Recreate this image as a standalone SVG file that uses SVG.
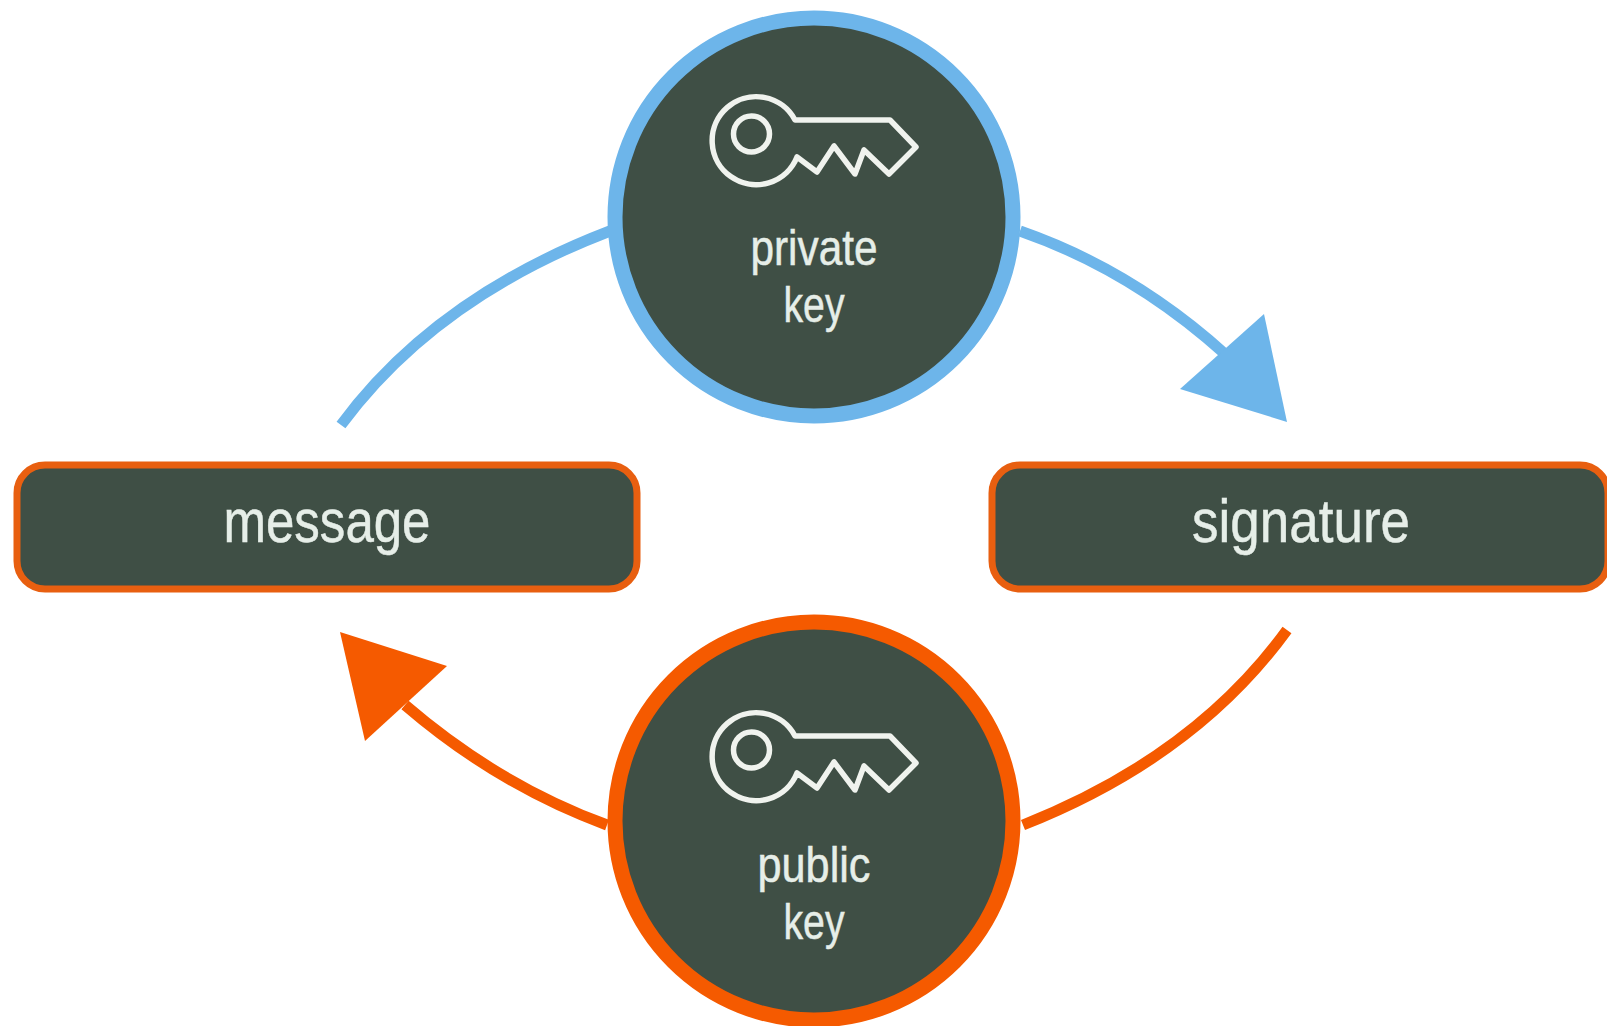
<svg xmlns="http://www.w3.org/2000/svg" width="1607" height="1026" viewBox="0 0 1607 1026">
<style>
.node{fill:#3f4f45}
.o{stroke:#f55a00}
.b{stroke:#6db5ea}
.box{stroke:#e85f10;stroke-width:7}
.ring{stroke-width:15}
.key{fill:none;stroke:#f0f3ee;stroke-width:5.5;stroke-linejoin:round}
.t{font-family:"Liberation Sans",Arial,sans-serif;fill:#e6eee8;text-anchor:middle;stroke:#e6eee8;stroke-width:.5}
.c{fill:none;stroke-width:11}
</style>
<defs>
<g id="keyicon">
<circle class="key" cx="751.5" cy="134" r="18"/>
<path class="key" d="M795 120H890L916 147L889 174L864 150L855 174L834 146L817 172L797 157A44 44 0 1 1 795 120Z"/>
</g>
</defs>
<rect width="1607" height="1026" fill="#fff"/>
<g id="connectors">
<path class="c b" d="M341 425Q435 298 610 231"/>
<path class="c b" d="M1020 231Q1132 270 1225 354"/>
<polygon points="1264,314 1287,422 1180,389" fill="#6db5ea"/>
<path class="c o" d="M1287 630Q1195 757 1023 825"/>
<path class="c o" d="M607 825Q498 785 405 705"/>
<polygon points="340,632 447,666 365,741" fill="#f55a00"/>
</g>
<g id="private-key">
<circle class="node ring b" cx="814" cy="217" r="199"/>
<use href="#keyicon"/>
<text class="t" font-size="50" x="814" y="265" textLength="127" lengthAdjust="spacingAndGlyphs">private</text>
<text class="t" font-size="50" x="814" y="322" textLength="61" lengthAdjust="spacingAndGlyphs">key</text>
</g>
<g id="public-key">
<circle class="node ring o" cx="814" cy="821" r="199"/>
<use href="#keyicon" y="616"/>
<text class="t" font-size="50" x="814" y="882" textLength="113" lengthAdjust="spacingAndGlyphs">public</text>
<text class="t" font-size="50" x="814" y="939" textLength="61" lengthAdjust="spacingAndGlyphs">key</text>
</g>
<g id="message">
<rect class="node box" x="17" y="465" width="620" height="124" rx="28"/>
<text class="t" font-size="62" x="327" y="542" textLength="207" lengthAdjust="spacingAndGlyphs">message</text>
</g>
<g id="signature">
<rect class="node box" x="992" y="465" width="616" height="124" rx="28"/>
<text class="t" font-size="62" x="1301" y="542" textLength="218" lengthAdjust="spacingAndGlyphs">signature</text>
</g>
</svg>
